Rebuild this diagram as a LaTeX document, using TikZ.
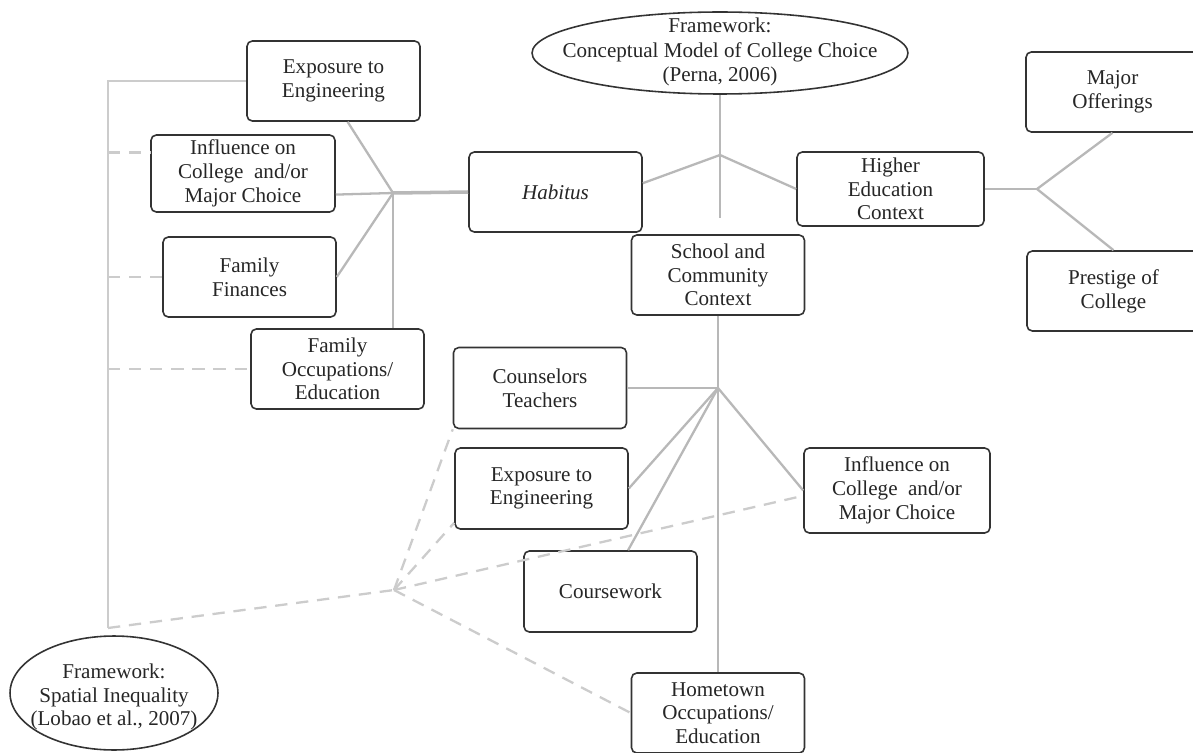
\documentclass[tikz,border=0pt]{standalone}
\usepackage{fontspec}
\setmainfont{Liberation Serif}
\usetikzlibrary{shapes.geometric}
\begin{document}
\begin{tikzpicture}[x=0.02cm,y=-0.02cm,
  txt/.style={align=center, font=\fontsize{12}{13.5}\selectfont, text=black!85},
  box/.style={txt, draw=black!80, line width=0.9pt, rounded corners=3pt,
    minimum width=3.46cm, minimum height=1.6cm, inner sep=1pt},
  oval/.style={draw=black!80, line width=0.9pt, ellipse, inner sep=0pt},
  link/.style={draw=black!28, line width=1.3pt},
  thick link/.style={draw=black!28, line width=2pt},
  vline/.style={draw=black!20, line width=1.3pt},
  dlink/.style={draw=black!20, line width=1.3pt, dash pattern=on 7pt off 5pt},
]
\path[use as bounding box, fill=white] (0,0) rectangle (1193,753);

% ellipses
\node[oval, minimum width=7.52cm, minimum height=1.64cm] (perna) at (720,53) {};
\node[txt, font=\fontsize{12}{14}\selectfont] (pernaT) at (720,52) {Framework:\\Conceptual Model of College Choice\\(Perna, 2006)};
\node[oval, minimum width=4.16cm, minimum height=2.28cm] (spatial) at (114,693) {};
\node[txt] (spatialT) at (114,697) {Framework:\\Spatial Inequality\\(Lobao et al., 2007)};

% boxes
\node[box] (expA) at (333.5,81) {Exposure to\\Engineering};
\node[box, minimum width=3.68cm, minimum height=1.54cm] (inflA) at (243,173.5) {Influence on\\College~~and/or\\Major Choice};
\node[box] (finA) at (249.5,277) {Family\\Finances};
\node[box] (occA) at (337.5,369) {Family\\Occupations/\\Education};
\node[box] (habitus) at (555.5,192) {\textit{Habitus}};
\node[box] (school) at (718,275) {School and\\Community\\Context};
\node[box, minimum width=3.74cm, minimum height=1.48cm] (higher) at (890.5,189) {Higher\\Education\\Context};
\node[box] (major) at (1112.5,92) {Major\\Offerings};
\node[box] (prestige) at (1113.5,291) {Prestige of\\College};
\node[box, minimum height=1.62cm] (couns) at (540,388) {Counselors\\Teachers};
\node[box, minimum height=1.62cm] (expB) at (541.5,488.5) {Exposure to\\Engineering};
\node[box, minimum height=1.62cm] (course) at (610.5,591.5) {Coursework};
\node[box] (home) at (718,713) {Hometown\\Occupations/\\Education};
\node[box, minimum width=3.72cm, minimum height=1.7cm] (inflB) at (897,490.5) {Influence on\\College~~and/or\\Major Choice};

% junctions
\coordinate (jP) at (720,155);
\coordinate (pEnd) at (720,218);
\coordinate (jF) at (393,193);
\coordinate (jS) at (718,388);
\coordinate (jH) at (1037,189);
\coordinate (jL) at (394,590);
\coordinate (vT) at (108,81);
\coordinate (vB) at (108,628);
\coordinate (iA) at ([yshift=12pt]inflA.west);

% Perna connectors
\draw[link] (perna.south) -- (jP) -- (pEnd);
\draw[link] (jP) -- ([yshift=5pt]habitus.east);
\draw[link] (jP) -- (higher.west);

% family junction
\draw[link] ([xshift=8pt]expA.south) -- (jF);
\draw[link] ([yshift=-12pt]inflA.east) -- (jF);
\draw[link] (finA.east) -- (jF);
\draw[link] (jF) -- (jF |- occA.north);
\draw[thick link] (jF) -- (habitus.west);

% school junction
\draw[link] (school.south) -- (home.north);
\draw[link] (couns.east) -- (jS);
\draw[link] (expB.east) -- (jS);
\draw[link] ([xshift=10pt]course.north) -- (jS);
\draw[link] (jS) -- (inflB.west);

% higher education junction
\draw[link] (higher.east) -- (jH);
\draw[link] (jH) -- (major.south);
\draw[link] (jH) -- (prestige.north);

% spatial inequality connectors
\draw[vline] (vB) -- (vT) -- (expA.west);
\draw[dlink] (vT |- iA) -- (iA);
\draw[dlink] (vT |- finA.west) -- (finA.west);
\draw[dlink] (vT |- occA.west) -- (occA.west);
\draw[dlink] (vB) -- (jL);
\draw[dlink] (jL) -- (couns.south west);
\draw[dlink] (jL) -- ([yshift=4pt]expB.south west);
\draw[dlink] (jL) -- ([yshift=-3pt]inflB.west);
\draw[dlink] (jL) -- (home.west);
\end{tikzpicture}
\end{document}
